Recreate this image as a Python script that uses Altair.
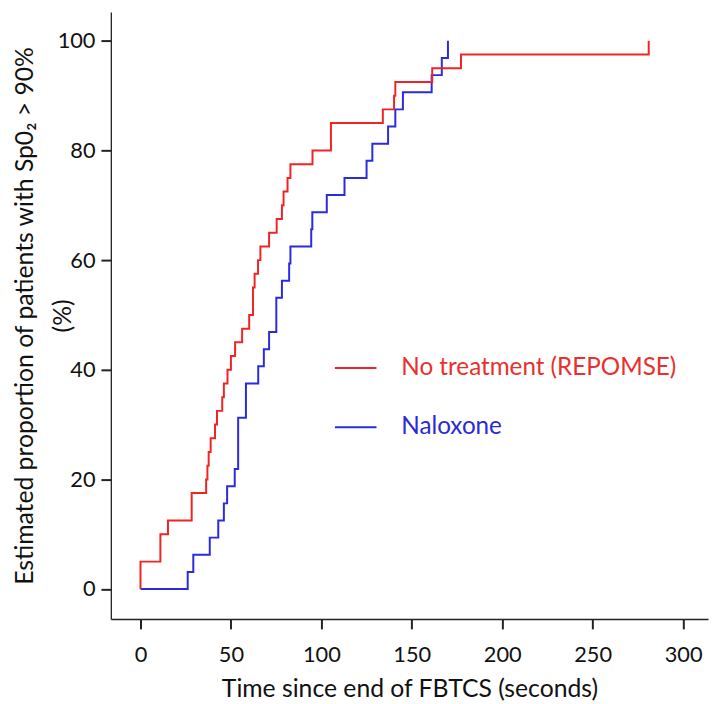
import altair as alt
import pandas as pd

# ---- data ----
red_label = "No treatment (REPOMSE)"
blue_label = "Naloxone"

red_times = [0, 0, 11, 15.2, 28.3, 36.3, 37.0, 37.7, 38.8, 41.2, 42.3, 45.2, 46.1, 48.1,
             50.0, 52.3, 56.2, 60.1, 62.2, 63.1, 65.0, 66.3, 71.1, 75.3, 78.2, 79.1, 81.3,
             82.9, 95.1, 105.3, 134.0, 140.2, 140.9, 161.3, 177.2, 281.0]
red_pct = [0, 5, 10, 12.5, 17.5, 20, 22.5, 25, 27.5, 30, 32.5, 35, 37.5, 40, 42.5, 45, 47.5,
           50, 55, 57.5, 60, 62.5, 65, 67.5, 70, 72.5, 75, 77.5, 80, 85, 87.5, 90, 92.5, 95,
           97.5, 100]

blue_times = [0, 26.1, 29.2, 38.3, 43.0, 46.1, 47.9, 52.1, 54.0, 58.3, 65.1, 68.2, 71.1, 75.1,
              78.2, 82.2, 82.9, 94.4, 95.0, 103.0, 112.8, 125.0, 128.2, 136.9, 140.9, 145.1,
              161.0, 166.6, 170.0]
blue_pct = [0, 3.125, 6.25, 9.375, 12.5, 15.625, 18.75, 21.875, 31.25, 37.5, 40.625, 43.75,
            46.875, 53.125, 56.25, 59.375, 62.5, 65.625, 68.75, 71.875, 75, 78.125, 81.25,
            84.375, 87.5, 90.625, 93.75, 96.875, 100]

x_ticks = [0, 50, 100, 150, 200, 250, 300]
y_ticks = [0, 20, 40, 60, 80, 100]

x_title = "Time since end of FBTCS (seconds)"
y_title = ["Estimated proportion of patients with Sp0\u2082 > 90%", "(%)"]

# ---- styling / layout constants ----
X_DOMAIN = [-16.4, 313.8]
Y_DOMAIN = [-5.47, 105.28]
LINE_COLORS = {red_label: "#f02424", blue_label: "#2a2ae0"}
TEXT_COLORS = {red_label: "#e8302e", blue_label: "#2a2ad6"}
FONT = "Lato"
LABEL_FS = 22
TITLE_FS = 25

# legend placement (data units)
LEG_X0, LEG_X1, LEG_TX = 107.5, 130.5, 144.2
LEG_Y = {red_label: 40.3, blue_label: 29.5}

curves = pd.concat([
    pd.DataFrame({"time": blue_times, "pct": blue_pct, "grp": blue_label}),
    pd.DataFrame({"time": red_times, "pct": red_pct, "grp": red_label}),
], ignore_index=True)
curves["idx"] = range(len(curves))

legend_df = pd.DataFrame({
    "grp": [red_label, blue_label],
    "x0": [LEG_X0, LEG_X0],
    "x1": [LEG_X1, LEG_X1],
    "tx": [LEG_TX, LEG_TX],
    "y": [LEG_Y[red_label], LEG_Y[blue_label]],
})

xscale = alt.Scale(domain=X_DOMAIN, nice=False, zero=False)
yscale = alt.Scale(domain=Y_DOMAIN, nice=False, zero=False)

line_color = alt.Color("grp:N", scale=alt.Scale(domain=list(LINE_COLORS.keys()),
                                                range=list(LINE_COLORS.values())), legend=None)
text_color = alt.Color("grp:N", scale=alt.Scale(domain=list(TEXT_COLORS.keys()),
                                                range=list(TEXT_COLORS.values())), legend=None)

x_axis = alt.Axis(values=x_ticks, title=x_title, grid=False, tickSize=10, tickWidth=2,
                  labelPadding=16, titlePadding=11, labelFlush=False)
y_axis = alt.Axis(values=y_ticks, title=y_title, grid=False, tickSize=10, tickWidth=2,
                  labelPadding=6, titleLineHeight=38, titleX=-74)

lines = alt.Chart(curves).mark_line(interpolate="step-after", strokeWidth=2).encode(
    x=alt.X("time:Q", scale=xscale, axis=x_axis),
    y=alt.Y("pct:Q", scale=yscale, axis=y_axis),
    color=line_color,
    detail="grp:N",
    order="idx:Q",
)

leg_lines = alt.Chart(legend_df).mark_rule(strokeWidth=2).encode(
    x=alt.X("x0:Q", scale=xscale), x2="x1:Q",
    y=alt.Y("y:Q", scale=yscale), color=line_color,
)

leg_text = alt.Chart(legend_df).mark_text(align="left", baseline="middle", font=FONT,
                                          fontSize=24.5).encode(
    x=alt.X("tx:Q", scale=xscale), y=alt.Y("y:Q", scale=yscale),
    text="grp:N", color=text_color,
)

chart = alt.layer(lines, leg_lines, leg_text).resolve_scale(color="independent").properties(
    width=604, height=614,
    autosize=alt.AutoSizeParams(type="none"),
    padding={"left": 104, "top": 0, "right": 3, "bottom": 82},
).configure_view(stroke=None).configure_axis(
    labelFont=FONT, titleFont=FONT, labelFontSize=LABEL_FS, titleFontSize=TITLE_FS,
    titleFontWeight="normal", labelColor="#111", titleColor="#111",
    domainColor="#222", tickColor="#222", domainWidth=1.3,
)

chart.save("out.html", embed_options={"renderer": "svg", "actions": False})
